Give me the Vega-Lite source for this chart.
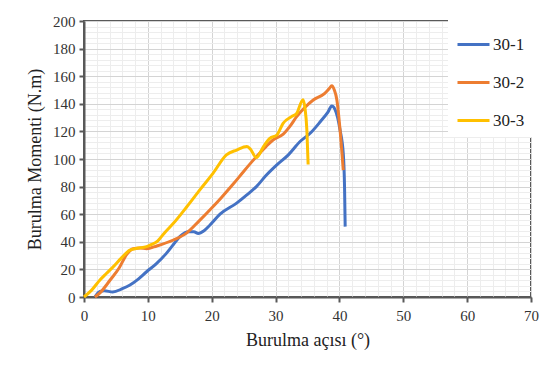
{
  "$schema": "https://vega.github.io/schema/vega-lite/v6.json",
  "width": 447,
  "height": 276,
  "autosize": "none",
  "padding": {"left": 84, "top": 21, "right": 10, "bottom": 79},
  "background": "white",
  "data": {"values": [
    {"series": "30-1", "angle": 1.7, "moment": 0},
    {"series": "30-1", "angle": 2.5, "moment": 4},
    {"series": "30-1", "angle": 3.2, "moment": 4.5},
    {"series": "30-1", "angle": 4.5, "moment": 3.6},
    {"series": "30-1", "angle": 6, "moment": 6},
    {"series": "30-1", "angle": 7.2, "moment": 8.7},
    {"series": "30-1", "angle": 8.5, "moment": 13},
    {"series": "30-1", "angle": 9.8, "moment": 18.3},
    {"series": "30-1", "angle": 11.3, "moment": 24},
    {"series": "30-1", "angle": 12.9, "moment": 31.6},
    {"series": "30-1", "angle": 14, "moment": 38},
    {"series": "30-1", "angle": 15, "moment": 43.7},
    {"series": "30-1", "angle": 16.4, "moment": 47.3},
    {"series": "30-1", "angle": 17.2, "moment": 47.3},
    {"series": "30-1", "angle": 17.9, "moment": 46},
    {"series": "30-1", "angle": 18.8, "moment": 48},
    {"series": "30-1", "angle": 19.7, "moment": 52},
    {"series": "30-1", "angle": 21.3, "moment": 60},
    {"series": "30-1", "angle": 23.9, "moment": 68},
    {"series": "30-1", "angle": 25.5, "moment": 74},
    {"series": "30-1", "angle": 27, "moment": 80},
    {"series": "30-1", "angle": 28.5, "moment": 88},
    {"series": "30-1", "angle": 30.2, "moment": 95.7},
    {"series": "30-1", "angle": 32, "moment": 103},
    {"series": "30-1", "angle": 33.8, "moment": 112.5},
    {"series": "30-1", "angle": 35.5, "moment": 119},
    {"series": "30-1", "angle": 37, "moment": 127},
    {"series": "30-1", "angle": 38.2, "moment": 134},
    {"series": "30-1", "angle": 38.8, "moment": 138.4},
    {"series": "30-1", "angle": 39.3, "moment": 136},
    {"series": "30-1", "angle": 40.1, "moment": 121},
    {"series": "30-1", "angle": 40.6, "moment": 104},
    {"series": "30-1", "angle": 40.8, "moment": 80},
    {"series": "30-1", "angle": 40.9, "moment": 51},
    {"series": "30-2", "angle": 1.7, "moment": 0},
    {"series": "30-2", "angle": 2.5, "moment": 3},
    {"series": "30-2", "angle": 4.1, "moment": 12.3},
    {"series": "30-2", "angle": 5.5, "moment": 21},
    {"series": "30-2", "angle": 6.7, "moment": 31},
    {"series": "30-2", "angle": 7.7, "moment": 35},
    {"series": "30-2", "angle": 8.8, "moment": 35.5},
    {"series": "30-2", "angle": 9.8, "moment": 35},
    {"series": "30-2", "angle": 11.4, "moment": 37},
    {"series": "30-2", "angle": 14, "moment": 41.3},
    {"series": "30-2", "angle": 16.1, "moment": 46.5},
    {"series": "30-2", "angle": 18, "moment": 55},
    {"series": "30-2", "angle": 20, "moment": 64.5},
    {"series": "30-2", "angle": 21.5, "moment": 72},
    {"series": "30-2", "angle": 23.4, "moment": 82},
    {"series": "30-2", "angle": 25, "moment": 91},
    {"series": "30-2", "angle": 27, "moment": 101.7},
    {"series": "30-2", "angle": 28.5, "moment": 109},
    {"series": "30-2", "angle": 29.6, "moment": 113.8},
    {"series": "30-2", "angle": 31.2, "moment": 118},
    {"series": "30-2", "angle": 32.3, "moment": 124},
    {"series": "30-2", "angle": 33.3, "moment": 130.7},
    {"series": "30-2", "angle": 34.5, "moment": 137},
    {"series": "30-2", "angle": 35.9, "moment": 142.8},
    {"series": "30-2", "angle": 37.7, "moment": 147.6},
    {"series": "30-2", "angle": 38.4, "moment": 151},
    {"series": "30-2", "angle": 38.8, "moment": 153},
    {"series": "30-2", "angle": 39.2, "moment": 150},
    {"series": "30-2", "angle": 39.6, "moment": 142.8},
    {"series": "30-2", "angle": 40.1, "moment": 121},
    {"series": "30-2", "angle": 40.6, "moment": 92},
    {"series": "30-3", "angle": 0, "moment": 0},
    {"series": "30-3", "angle": 1.2, "moment": 5},
    {"series": "30-3", "angle": 2.5, "moment": 12.3},
    {"series": "30-3", "angle": 3.5, "moment": 17},
    {"series": "30-3", "angle": 4.6, "moment": 22},
    {"series": "30-3", "angle": 5.8, "moment": 28},
    {"series": "30-3", "angle": 7.2, "moment": 34},
    {"series": "30-3", "angle": 8.3, "moment": 35.3},
    {"series": "30-3", "angle": 9.8, "moment": 36.5},
    {"series": "30-3", "angle": 10.5, "moment": 38},
    {"series": "30-3", "angle": 11.4, "moment": 40},
    {"series": "30-3", "angle": 12.7, "moment": 47},
    {"series": "30-3", "angle": 14, "moment": 53.4},
    {"series": "30-3", "angle": 16.1, "moment": 65.4},
    {"series": "30-3", "angle": 18.2, "moment": 78},
    {"series": "30-3", "angle": 20.2, "moment": 89.6},
    {"series": "30-3", "angle": 22.3, "moment": 103},
    {"series": "30-3", "angle": 23.9, "moment": 106.5},
    {"series": "30-3", "angle": 25.5, "moment": 109},
    {"series": "30-3", "angle": 26, "moment": 107.5},
    {"series": "30-3", "angle": 27, "moment": 101},
    {"series": "30-3", "angle": 28.1, "moment": 109},
    {"series": "30-3", "angle": 29.1, "moment": 115},
    {"series": "30-3", "angle": 30.2, "moment": 117.4},
    {"series": "30-3", "angle": 31.2, "moment": 126},
    {"series": "30-3", "angle": 32.5, "moment": 130.7},
    {"series": "30-3", "angle": 33.3, "moment": 133},
    {"series": "30-3", "angle": 34.3, "moment": 143},
    {"series": "30-3", "angle": 34.6, "moment": 137},
    {"series": "30-3", "angle": 34.9, "moment": 121},
    {"series": "30-3", "angle": 35.1, "moment": 96}
  ]},
  "mark": {"type": "line", "strokeWidth": 3, "interpolate": "monotone"},
  "encoding": {
    "x": {
      "field": "angle", "type": "quantitative",
      "scale": {"domain": [0, 70], "nice": false},
      "axis": {
        "title": "Burulma açısı (°)",
        "values": [0,2,4,6,8,10,12,14,16,18,20,22,24,26,28,30,32,34,36,38,40,42,44,46,48,50,52,54,56,58,60,62,64,66,68,70],
        "labelExpr": "datum.value % 10 === 0 ? datum.label : ''",
        "gridColor": {"condition": {"test": "datum.value % 10 === 0", "value": "#d4d4d4"}, "value": "#ededed"},
        "tickOpacity": {"condition": {"test": "datum.value % 10 === 0", "value": 1}, "value": 0},
        "labelPadding": 6,
        "titlePadding": 8
      }
    },
    "y": {
      "field": "moment", "type": "quantitative",
      "scale": {"domain": [0, 200], "nice": false},
      "axis": {
        "title": "Burulma Momenti (N.m)",
        "values": [0,4,8,12,16,20,24,28,32,36,40,44,48,52,56,60,64,68,72,76,80,84,88,92,96,100,104,108,112,116,120,124,128,132,136,140,144,148,152,156,160,164,168,172,176,180,184,188,192,196,200],
        "labelExpr": "datum.value % 20 === 0 ? datum.label : ''",
        "gridColor": {"condition": {"test": "datum.value % 20 === 0", "value": "#d4d4d4"}, "value": "#ededed"},
        "tickOpacity": {"condition": {"test": "datum.value % 20 === 0", "value": 1}, "value": 0},
        "labelPadding": 4,
        "titlePadding": 8
      }
    },
    "color": {
      "field": "series", "type": "nominal",
      "scale": {"domain": ["30-1", "30-2", "30-3"], "range": ["#4472C4", "#ED7D31", "#FFC000"]},
      "legend": {
        "title": null,
        "orient": "none",
        "legendX": 364,
        "legendY": -2,
        "fillColor": "white",
        "padding": 8,
        "symbolType": "stroke",
        "symbolSize": 1024,
        "symbolStrokeWidth": 3,
        "labelFontSize": 17,
        "labelFont": "Liberation Serif",
        "labelColor": "#222222",
        "labelOffset": 2,
        "rowPadding": 12
      }
    }
  },
  "config": {
    "font": "Liberation Serif",
    "view": {"stroke": "#595959", "strokeWidth": 2},
    "legend": {"labelFont": "Liberation Serif"},
    "axis": {
      "domainColor": "#595959",
      "domainWidth": 2,
      "tickColor": "#595959",
      "tickWidth": 2,
      "tickSize": 5,
      "labelFont": "Liberation Serif",
      "titleFont": "Liberation Serif",
      "labelFontSize": 15,
      "labelColor": "#333333",
      "labelFlush": false,
      "labelOverlap": false,
      "titleFontSize": 18,
      "titleFontWeight": "normal",
      "titleColor": "#222222",
      "gridWidth": 1
    }
  }
}
